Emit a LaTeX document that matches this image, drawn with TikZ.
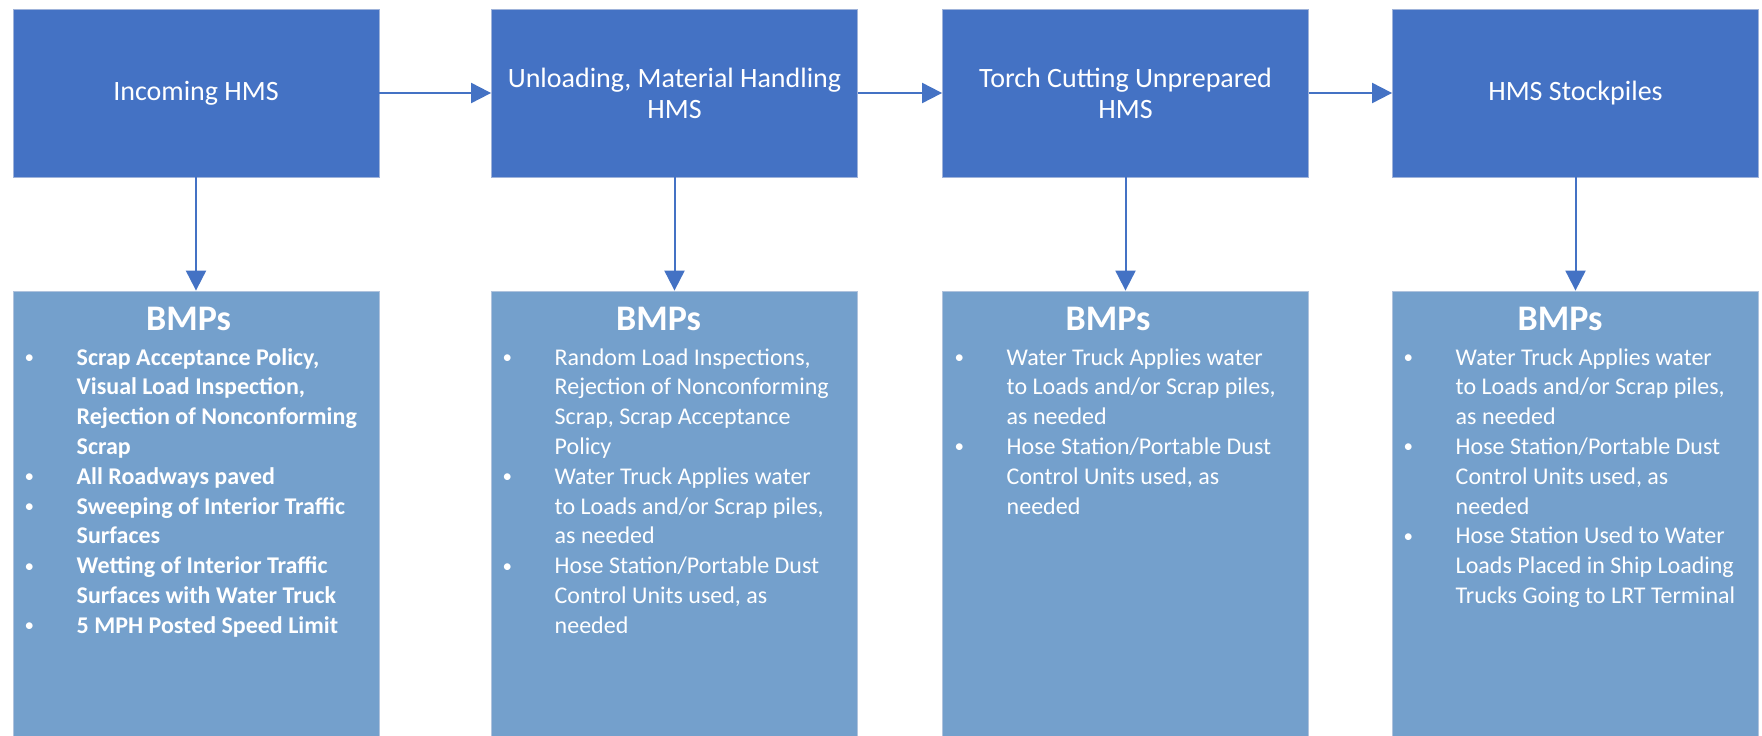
\documentclass[tikz,border=0pt]{standalone}
\usepackage{fontspec}
\setmainfont{Carlito}
\usetikzlibrary{arrows.meta}
\definecolor{topblue}{HTML}{4472C4}
\definecolor{botblue}{HTML}{74A0CC}
\definecolor{edgeA}{HTML}{9FB3DA}
\definecolor{edgeB}{HTML}{B0C3DD}
\tikzset{
  topbox/.style={rectangle, fill=topblue, draw=edgeA, line width=0.8pt,
    minimum width=366pt, minimum height=168pt, inner sep=0pt, text=white,
    align=center, font=\fontsize{28}{31}\selectfont},
  botbox/.style={rectangle, fill=botblue, draw=edgeB, line width=0.8pt,
    minimum width=366pt, minimum height=449pt, inner sep=0pt},
  bmphead/.style={anchor=base west, inner sep=0pt, text=white,
    font=\bfseries\fontsize{36}{40}\selectfont},
  bmplist/.style={anchor=base west, inner sep=0pt, text=white,
    font=\fontsize{24}{29.8}\selectfont},
  bmplistbold/.style={bmplist, font=\bfseries\fontsize{24}{29.8}\selectfont},
  flow/.style={draw=topblue, line width=2pt, -{Triangle[length=20pt,width=20pt]}},
}
\newenvironment{blist}{\begin{tabular}[t]{@{}p{52pt}@{}l@{}}}{\end{tabular}}
\newcommand{\bdot}{\raisebox{1.5pt}{\mdseries\fontsize{19}{19}\selectfont •}}
\begin{document}
\begin{tikzpicture}[x=1pt,y=-1pt]
\fill[white] (0,0) rectangle (1762,736);
\useasboundingbox (0,0) rectangle (1762,736);

% top process boxes
\node[topbox] (t1) at (196,93) {Incoming HMS};
\node[topbox] (t2) at (674.5,93) {Unloading, Material Handling\\HMS};
\node[topbox] (t3) at (1125.5,93) {Torch Cutting Unprepared\\HMS};
\node[topbox] (t4) at (1575.5,93) {HMS Stockpiles};

% bottom BMP boxes
\node[botbox] (b1) at (196,515.5) {};
\node[botbox] (b2) at (674.5,515.5) {};
\node[botbox] (b3) at (1125.5,515.5) {};
\node[botbox] (b4) at (1575.5,515.5) {};

% connectors
\draw[flow] (t1) -- (t2);
\draw[flow] (t2) -- (t3);
\draw[flow] (t3) -- (t4);
\draw[flow] (t1) -- (b1);
\draw[flow] (t2) -- (b2);
\draw[flow] (t3) -- (b3);
\draw[flow] (t4) -- (b4);

% headings
\node[bmphead] (h1) at (146,330) {BMPs};
\node[bmphead] (h2) at (616,330) {BMPs};
\node[bmphead] (h3) at (1065.5,330) {BMPs};
\node[bmphead] (h4) at (1517.5,330) {BMPs};

% lists
\node[bmplistbold] (l1) at (24.5,365) {\begin{blist}
\bdot & Scrap Acceptance Policy,\\
  & Visual Load Inspection,\\
  & Rejection of Nonconforming\\
  & Scrap\\
\bdot & All Roadways paved\\
\bdot & Sweeping of Interior Traffic\\
  & Surfaces\\
\bdot & Wetting of Interior Traffic\\
  & Surfaces with Water Truck\\
\bdot & 5 MPH Posted Speed Limit
\end{blist}};

\node[bmplist] (l2) at (502.5,365) {\begin{blist}
\bdot & Random Load Inspections,\\
  & Rejection of Nonconforming\\
  & Scrap, Scrap Acceptance\\
  & Policy\\
\bdot & Water Truck Applies water\\
  & to Loads and/or Scrap piles,\\
  & as needed\\
\bdot & Hose Station/Portable Dust\\
  & Control Units used, as\\
  & needed
\end{blist}};

\node[bmplist] (l3) at (954.5,365) {\begin{blist}
\bdot & Water Truck Applies water\\
  & to Loads and/or Scrap piles,\\
  & as needed\\
\bdot & Hose Station/Portable Dust\\
  & Control Units used, as\\
  & needed
\end{blist}};

\node[bmplist] (l4) at (1403.5,365) {\begin{blist}
\bdot & Water Truck Applies water\\
  & to Loads and/or Scrap piles,\\
  & as needed\\
\bdot & Hose Station/Portable Dust\\
  & Control Units used, as\\
  & needed\\
\bdot & Hose Station Used to Water\\
  & Loads Placed in Ship Loading\\
  & Trucks Going to LRT Terminal
\end{blist}};
\end{tikzpicture}
\end{document}
